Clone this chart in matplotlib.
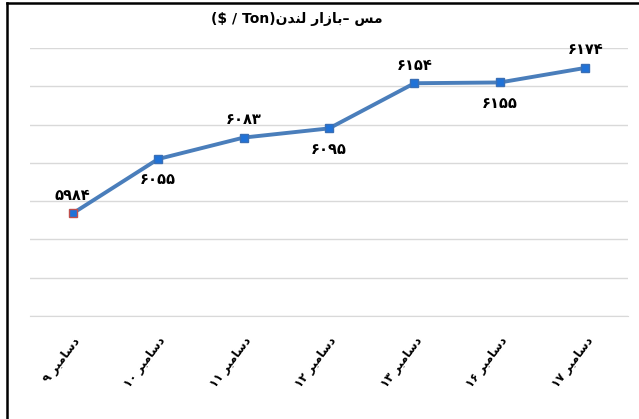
import matplotlib
matplotlib.use("Agg")
import matplotlib.pyplot as plt
from matplotlib.lines import Line2D

# ---------------- data ----------------
categories = ["دسامبر ۹", "دسامبر ۱۰", "دسامبر ۱۱", "دسامبر ۱۲",
              "دسامبر ۱۳", "دسامبر ۱۶", "دسامبر ۱۷"]
values = [5984, 6055, 6083, 6095, 6154, 6155, 6174]
label_side = ["above", "below", "above", "below", "above", "below", "above"]
title_fa = "مس –بازار لندن"
title_unit = "($ / Ton)"

# ------------- minimal Arabic shaping -------------
FORMS = {  # isolated, final, initial, medial
    "ا": ("\uFE8D", "\uFE8E", None, None),
    "ب": ("\uFE8F", "\uFE90", "\uFE91", "\uFE92"),
    "د": ("\uFEA9", "\uFEAA", None, None),
    "ر": ("\uFEAD", "\uFEAE", None, None),
    "ز": ("\uFEAF", "\uFEB0", None, None),
    "س": ("\uFEB1", "\uFEB2", "\uFEB3", "\uFEB4"),
    "ل": ("\uFEDD", "\uFEDE", "\uFEDF", "\uFEE0"),
    "م": ("\uFEE1", "\uFEE2", "\uFEE3", "\uFEE4"),
    "ن": ("\uFEE5", "\uFEE6", "\uFEE7", "\uFEE8"),
}


def joins_next(c):
    return c in FORMS and FORMS[c][2] is not None


def shape(s):
    out = []
    for i, c in enumerate(s):
        if c not in FORMS:
            out.append(c)
            continue
        prev = s[i - 1] if i > 0 else ""
        nxt = s[i + 1] if i + 1 < len(s) else ""
        jp = joins_next(prev)
        jn = joins_next(c) and nxt in FORMS
        iso, fin, ini, med = FORMS[c]
        if jp and jn:
            out.append(med)
        elif jp:
            out.append(fin)
        elif jn:
            out.append(ini)
        else:
            out.append(iso)
    return "".join(out)


def visual(s):
    toks = s.split(" ")
    res = []
    for t in toks:
        if any(ch in FORMS for ch in t):
            res.append(shape(t)[::-1])
        else:
            res.append(t)
    return " ".join(res[::-1])


def visual_full(s):
    return shape(s)[::-1]


PERSIAN = str.maketrans("0123456789", "۰۱۲۳۴۵۶۷۸۹")

# ---------------- figure ----------------
W, H = 639, 419
fig = plt.figure(figsize=(W / 100, H / 100), dpi=100)
ax = fig.add_axes([30 / W, 1 - 316 / H, (628 - 30) / W, (316 - 48) / H])

x = list(range(len(values)))
ax.plot(x, values, color="#4A7EBB", lw=2.8, zorder=3)
for i, v in enumerate(values):
    ec = "#C0504D" if i == 0 else "#3A6FB5"
    ax.plot([i], [v], marker="s", ms=6.2, mfc="#1F72D8", mec=ec, mew=1.0,
            zorder=4, ls="none")

for i, v in enumerate(values):
    off = 13 if label_side[i] == "above" else -15
    ax.annotate(str(v).translate(PERSIAN), (i, v), xytext=(0, off),
                textcoords="offset points", ha="center", va="center",
                fontsize=10.5, fontweight="bold", family="DejaVu Sans")

ax.set_xlim(-0.5, len(values) - 0.5)
ax.set_ylim(5850, 6200)
ax.set_yticks(range(5850, 6201, 50))
ax.yaxis.grid(True, color="#D9D9D9", lw=1)
ax.set_axisbelow(True)
ax.tick_params(axis="y", left=False, labelleft=False)
ax.tick_params(axis="x", bottom=False, pad=10)
for sp in ["top", "right", "left"]:
    ax.spines[sp].set_visible(False)
ax.spines["bottom"].set_color("#D9D9D9")

ax.set_xticks(x)
ax.set_xticklabels([visual(c) for c in categories], rotation=53,
                   ha="right", va="top", rotation_mode="anchor",
                   fontsize=8.5, fontweight="bold")

fig.text(297 / W, 1 - 19 / H, title_unit + visual_full(title_fa),
         ha="center", va="center", fontsize=10, fontweight="bold")

# outer border (top and left)
fig.add_artist(Line2D([7 / W, 1], [1 - 3 / H, 1 - 3 / H], color="black",
                      lw=1.8, transform=fig.transFigure))
fig.add_artist(Line2D([7 / W, 7 / W], [0, 1 - 3 / H], color="black",
                      lw=1.8, transform=fig.transFigure))

fig.savefig("out.png", dpi=100)
